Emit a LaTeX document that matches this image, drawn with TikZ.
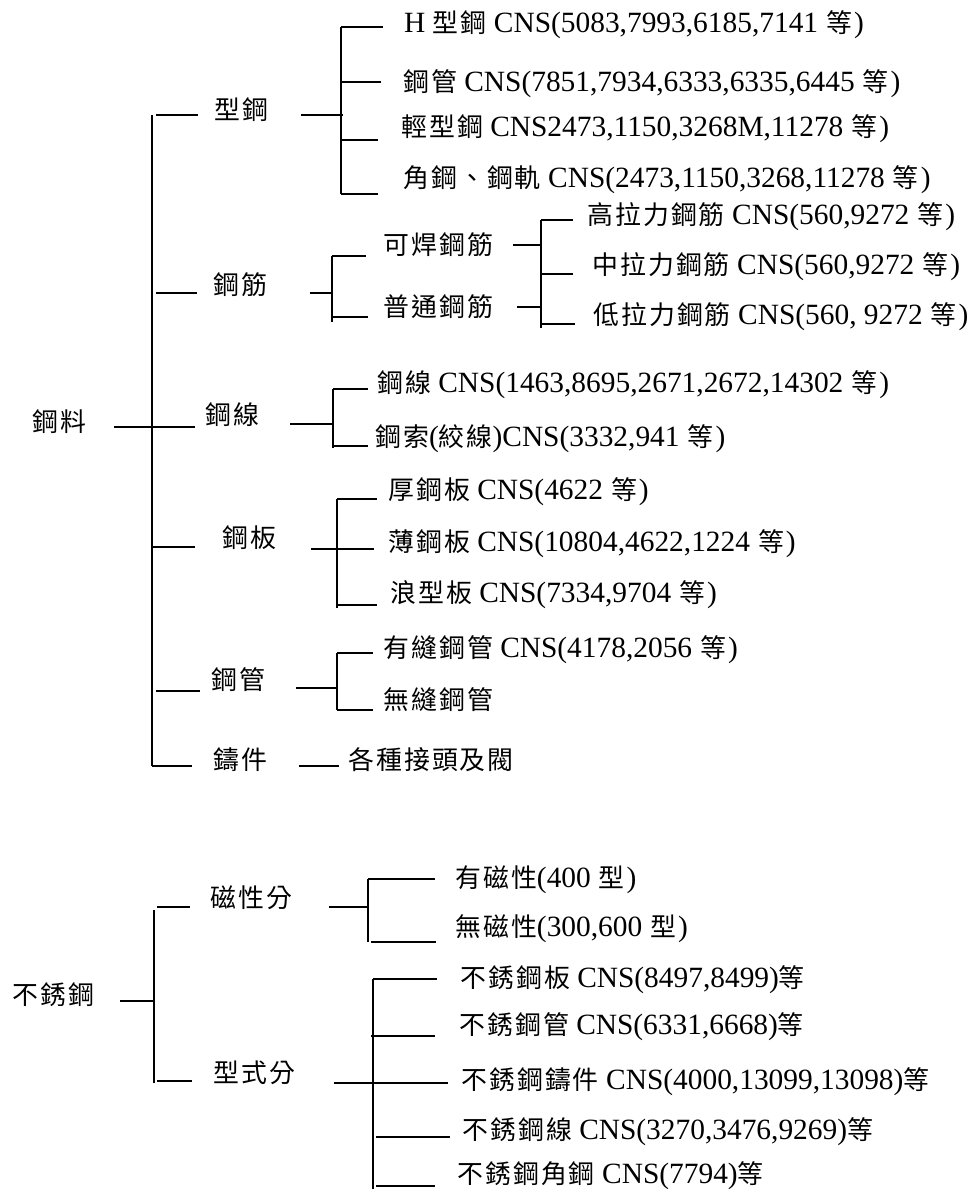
\documentclass[tikz,border=0pt]{standalone}
\usepackage{fontspec}
\setmainfont{Liberation Serif}
\newfontfamily\cjk[Scale=0.88,LetterSpace=8]{Noto Sans CJK TC}
\newcommand\zhs[1]{{\cjk #1}}
\newcommand\deng{\hspace{8pt}\zhs{等}\hspace{2pt}}
\begin{document}
\begin{tikzpicture}[x=1pt,y=-1pt,
  lbl/.style={anchor=west,inner sep=0pt,text height=22pt,text depth=2.4pt,font=\fontsize{29.4}{31}\selectfont},
  ln/.style={line width=2pt}]
\useasboundingbox[fill=white] (0,0) rectangle (979,1189);

% ---------- labels : steel ----------
\node[lbl] (gl) at (32,422) {\zhs{鋼料}};
\node[lbl] (xg) at (214,110) {\zhs{型鋼}};
\node[lbl] (gj) at (213,285) {\zhs{鋼筋}};
\node[lbl] (gx) at (205,415) {\zhs{鋼線}};
\node[lbl] (gb) at (222,538) {\zhs{鋼板}};
\node[lbl] (gg) at (211,680) {\zhs{鋼管}};
\node[lbl] (zj) at (213,760) {\zhs{鑄件}};

\node[lbl] (xg1) at (404,23) {H \zhs{型鋼} CNS(5083,7993,6185,7141\deng)};
\node[lbl] (xg2) at (403,82) {\zhs{鋼管} CNS(7851,7934,6333,6335,6445\deng)};
\node[lbl] (xg3) at (401,127) {\zhs{輕型鋼} CNS2473,1150,3268M,11278\deng)};
\node[lbl] (xg4) at (403,178) {\zhs{角鋼、鋼軌} CNS(2473,1150,3268,11278\deng)};

\node[lbl] (kh) at (383,245) {\zhs{可焊鋼筋}};
\node[lbl] (pt) at (383,307) {\zhs{普通鋼筋}};
\node[lbl] (gj1) at (587,215) {\zhs{高拉力鋼筋} CNS(560,9272\deng)};
\node[lbl] (gj2) at (592,265) {\zhs{中拉力鋼筋} CNS(560,9272\deng)};
\node[lbl] (gj3) at (593,315) {\zhs{低拉力鋼筋} CNS(560, 9272\deng)};

\node[lbl] (gx1) at (377,383) {\zhs{鋼線} CNS(1463,8695,2671,2672,14302\deng)};
\node[lbl] (gx2) at (375,437) {\zhs{鋼索}(\zhs{絞線})CNS(3332,941\deng)};

\node[lbl] (gb1) at (388,490) {\zhs{厚鋼板} CNS(4622\deng)};
\node[lbl] (gb2) at (388,542) {\zhs{薄鋼板} CNS(10804,4622,1224\deng)};
\node[lbl] (gb3) at (390,593) {\zhs{浪型板} CNS(7334,9704\deng)};

\node[lbl] (gg1) at (383,648) {\zhs{有縫鋼管} CNS(4178,2056\deng)};
\node[lbl] (gg2) at (383,700) {\zhs{無縫鋼管}};
\node[lbl] (zj1) at (348,760) {\zhs{各種接頭及閥}};

% ---------- labels : stainless ----------
\node[lbl] (bx) at (12,995) {\zhs{不銹鋼}};
\node[lbl] (cx) at (210,898) {\zhs{磁性分}};
\node[lbl] (xs) at (213,1073) {\zhs{型式分}};
\node[lbl] (cx1) at (455,878) {\zhs{有磁性}(400\hspace{8pt}\zhs{型}\hspace{2pt})};
\node[lbl] (cx2) at (455,927) {\zhs{無磁性}(300,600\hspace{8pt}\zhs{型}\hspace{2pt})};
\node[lbl] (xs1) at (460,978) {\zhs{不銹鋼板} CNS(8497,8499)\zhs{等}};
\node[lbl] (xs2) at (459,1025) {\zhs{不銹鋼管} CNS(6331,6668)\zhs{等}};
\node[lbl] (xs3) at (461,1080) {\zhs{不銹鋼鑄件} CNS(4000,13099,13098)\zhs{等}};
\node[lbl] (xs4) at (462,1130) {\zhs{不銹鋼線} CNS(3270,3476,9269)\zhs{等}};
\node[lbl] (xs5) at (457,1174) {\zhs{不銹鋼角鋼} CNS(7794)\zhs{等}};

% ---------- connectors : steel ----------
\coordinate (r0) at (114,427);
\coordinate (b1t) at (152,115);
\coordinate (b1b) at (152,766);
\draw[ln] (b1t) -- (b1b);
\draw[ln] (r0) -- (195,427);
\draw[ln] (156,115) -- (198,115);
\draw[ln] (156,293) -- (197,293);
\draw[ln] (152,547) -- (195,547);
\draw[ln] (156,691) -- (200,691);
\draw[ln] (b1b) -- (192,766);

% 型鋼
\coordinate (s1) at (301,115);
\draw[ln] (s1) -- (343,115);
\draw[ln] (341,27) -- (341,194);
\draw[ln] (341,27) -- (383,27);
\draw[ln] (341,82) -- (381,82);
\draw[ln] (341,140) -- (378,140);
\draw[ln] (341,194) -- (378,194);

% 鋼筋
\draw[ln] (310,293) -- (332,293);
\draw[ln] (332,256) -- (332,322);
\draw[ln] (332,256) -- (366,256);
\draw[ln] (332,317) -- (368,317);
\draw[ln] (513,245) -- (542,245);
\draw[ln] (517,307) -- (542,307);
\draw[ln] (541,220) -- (541,328);
\draw[ln] (541,220) -- (573,220);
\draw[ln] (541,274) -- (573,274);
\draw[ln] (541,324) -- (575,324);

% 鋼線
\draw[ln] (290,424) -- (333,424);
\draw[ln] (333,389) -- (333,448);
\draw[ln] (333,389) -- (368,389);
\draw[ln] (333,446) -- (368,446);

% 鋼板
\draw[ln] (311,549) -- (374,549);
\draw[ln] (337,499) -- (337,608);
\draw[ln] (337,499) -- (377,499);
\draw[ln] (337,605) -- (377,605);

% 鋼管
\draw[ln] (296,688) -- (338,688);
\draw[ln] (337,653) -- (337,710);
\draw[ln] (337,653) -- (373,653);
\draw[ln] (337,710) -- (373,710);

% 鑄件
\draw[ln] (299,766) -- (339,766);

% ---------- connectors : stainless ----------
\draw[ln] (120,1001) -- (154,1001);
\draw[ln] (154,910) -- (154,1083);
\draw[ln] (157,907) -- (190,907);
\draw[ln] (157,1081) -- (192,1081);

\draw[ln] (329,907) -- (368,907);
\draw[ln] (368,879) -- (368,942);
\draw[ln] (368,879) -- (435,879);
\draw[ln] (371,942) -- (436,942);

\draw[ln] (334,1083) -- (448,1083);
\draw[ln] (373,979) -- (373,1189);
\draw[ln] (373,979) -- (437,979);
\draw[ln] (371,1036) -- (435,1036);
\draw[ln] (376,1137) -- (450,1137);
\draw[ln] (376,1186) -- (435,1186);
\end{tikzpicture}
\end{document}
